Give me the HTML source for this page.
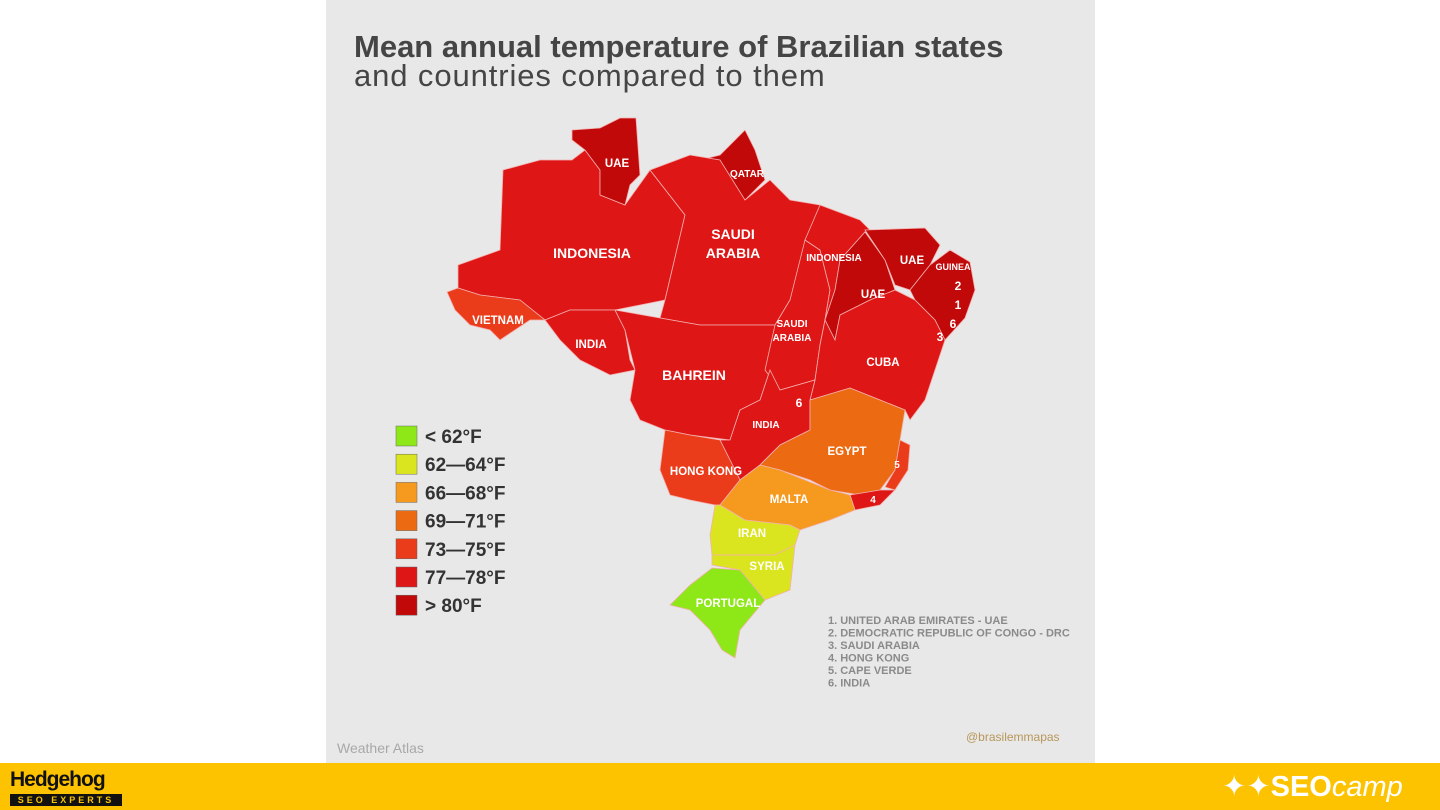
<!DOCTYPE html>
<html><head><meta charset="utf-8"><style>
html,body{margin:0;padding:0;width:1440px;height:810px;overflow:hidden;background:#fff;font-family:"Liberation Sans",sans-serif}
#panel{position:absolute;left:326px;top:0;width:769px;height:763px;background:#e8e8e8}
#bar{position:absolute;left:0;top:763px;width:1440px;height:47px;background:#fdc300}
</style></head><body>
<div id="panel"></div>
<svg id="map" width="1440" height="763" style="position:absolute;left:0;top:0">
<text x="354" y="57" font-size="31" font-weight="bold" fill="#454545">Mean annual temperature of Brazilian states</text>
<text x="354" y="86" font-size="31" letter-spacing="0.9" fill="#454545">and countries compared to them</text>
<g id="states"></g><g id="labels"></g><g id="legend"></g><g id="notes"></g>
<text x="337" y="753" font-size="14" fill="#a8a8a8">Weather Atlas</text>
<text x="966" y="741" font-size="12" fill="#b8975a">@brasilemmapas</text>
</svg>
<div id="bar">
<div style="position:absolute;left:10px;top:5px;font-size:21px;font-weight:bold;color:#111;letter-spacing:-1px">Hedgehog</div>
<div style="position:absolute;left:10px;top:31px;width:112px;height:12px;background:#111;color:#fdc300;font-size:9px;font-weight:bold;letter-spacing:3px;text-align:center;line-height:12px">SEO EXPERTS</div>
<div style="position:absolute;left:1222px;top:6px;font-size:29px;color:#fff">✦✦<b>SEO</b><i>camp</i></div>
</div>
<script>
const legendLabels=["< 62°F","62—64°F","66—68°F","69—71°F","73—75°F","77—78°F","> 80°F"];
const legendColors=["#8ee818","#dbe51f","#f59a1f","#ec6b12","#ea3c1a","#df1616","#c20909"];
const stateNames=["amazonas","roraima","amapa","para","acre","rondonia","mato-grosso","tocantins","maranhao","piaui","ceara","ne-small","bahia","goias","mato-grosso-do-sul","minas-gerais","espirito-santo","rio-de-janeiro","sao-paulo","parana","santa-catarina","rio-grande-do-sul"];
const stateClass=[5,6,6,5,4,5,5,5,5,6,6,6,5,5,4,3,4,5,2,1,1,0];
const stateLabels=["INDONESIA","UAE","QATAR","SAUDI|ARABIA","VIETNAM","INDIA","BAHREIN","SAUDI|ARABIA","INDONESIA","UAE","UAE","","CUBA","INDIA","HONG KONG","EGYPT","5","4","MALTA","IRAN","SYRIA","PORTUGAL"];
const notes=["1. UNITED ARAB EMIRATES - UAE","2. DEMOCRATIC REPUBLIC OF CONGO - DRC","3. SAUDI ARABIA","4. HONG KONG","5. CAPE VERDE","6. INDIA"];
// geometry (not data)
const shapes={
"amazonas":"458,265 500,250 503,170 540,160 572,160 585,150 600,170 600,195 625,205 650,170 685,215 665,300 615,310 570,310 545,320 520,300 480,295 458,288",
"roraima":"572,130 600,128 620,118 636,118 640,175 630,185 625,205 600,195 600,170 585,150 572,140",
"amapa":"700,160 720,155 745,130 755,150 765,180 745,200 725,185",
"para":"650,170 690,155 720,160 745,200 770,180 790,200 820,205 830,215 805,240 800,275 790,300 775,325 700,325 660,318 665,300 685,215",
"acre":"447,292 458,288 480,295 520,300 545,320 530,320 500,340 490,330 470,325 455,310",
"rondonia":"545,320 570,310 615,310 625,330 630,360 635,370 610,375 580,360 560,340",
"mato-grosso":"615,310 660,318 700,325 775,325 770,370 760,400 740,410 730,440 690,435 665,430 640,420 630,400 635,370 625,330",
"tocantins":"790,300 805,240 820,250 830,290 825,320 820,345 815,380 780,390 765,370 775,325",
"maranhao":"820,205 860,220 870,230 865,232 840,260 835,290 825,320 830,290 820,250 805,240",
"piaui":"840,260 865,232 885,260 895,290 870,300 840,315 835,340 825,320 835,290",
"ceara":"865,230 925,228 940,245 930,265 910,290 895,285 885,260",
"ne-small":"930,265 950,250 970,262 975,290 965,318 945,340 935,320 915,300 910,290",
"bahia":"825,320 835,340 840,315 870,300 895,290 915,300 935,320 945,340 935,370 925,400 910,420 905,410 880,400 850,388 810,400 815,380 820,345",
"goias":"760,400 770,370 780,390 815,380 810,400 810,430 780,445 760,465 740,480 730,460 720,440 730,440 740,410",
"mato-grosso-do-sul":"665,430 690,435 720,440 730,460 740,480 720,505 715,505 690,500 670,495 660,470",
"minas-gerais":"810,400 850,388 880,400 905,410 900,440 895,470 880,490 860,495 830,490 810,480 780,470 760,465 780,445 810,430",
"espirito-santo":"900,440 910,445 908,470 895,490 885,487 895,470",
"rio-de-janeiro":"850,495 880,490 895,490 880,505 855,510",
"sao-paulo":"760,465 780,470 830,490 850,495 855,510 830,520 800,530 790,525 745,520 720,505 740,480",
"parana":"715,505 720,505 745,520 790,525 800,530 795,545 775,555 745,555 712,555 710,535",
"santa-catarina":"712,555 775,555 795,545 790,590 765,600 740,570 712,565",
"rio-grande-do-sul":"670,605 690,585 712,568 740,570 765,600 740,630 735,658 722,650 710,630 690,610"};
const labelPos={"amazonas":[592,258],"roraima":[617,167],"amapa":[747,177],"para":[733,248],"acre":[498,324],"rondonia":[591,348],"mato-grosso":[694,380],"tocantins":[792,334],"maranhao":[834,261],"piaui":[873,298],"ceara":[912,264],"ne-small":[0,0],"bahia":[883,366],"goias":[766,428],"mato-grosso-do-sul":[706,475],"minas-gerais":[847,455],"espirito-santo":[897,468],"rio-de-janeiro":[873,503],"sao-paulo":[789,503],"parana":[752,537],"santa-catarina":[767,570],"rio-grande-do-sul":[728,607]};
const NS="http://www.w3.org/2000/svg";
const gS=document.getElementById('states'),gL=document.getElementById('labels');
stateNames.forEach((n,i)=>{
 const p=document.createElementNS(NS,'polygon');
 p.setAttribute('points',shapes[n]);
 p.setAttribute('fill',legendColors[stateClass[i]]);
 p.setAttribute('stroke','#f4b0b0');p.setAttribute('stroke-width','0.8');
 
 
 gS.appendChild(p);
 const lab=stateLabels[i];if(!lab)return;
 const [x,y]=labelPos[n];const parts=lab.split('|');
 parts.forEach((t,k)=>{
  const tx=document.createElementNS(NS,'text');
  tx.setAttribute('x',x);tx.setAttribute('y',y+k*(n==="para"?19:14)-(parts.length-1)*(n==="para"?9:7));
  tx.setAttribute('text-anchor','middle');tx.setAttribute('fill','#fff');tx.setAttribute('font-weight','bold');
  tx.setAttribute('font-size',(["amazonas","para","mato-grosso"].includes(n)?14:(["amapa","maranhao","tocantins","goias","espirito-santo","rio-de-janeiro"].includes(n)?10:11.5)));
  tx.textContent=t;
  
  
  gL.appendChild(tx);
 });
});
[["GUINEA",953,270],["2",958,290],["1",958,309],["6",953,328],["3",940,341],["6",799,407]].forEach(([t,x,y])=>{
 const tx=document.createElementNS(NS,'text');
 tx.setAttribute('x',x);tx.setAttribute('y',y);tx.setAttribute('text-anchor','middle');
 tx.setAttribute('fill','#fff');tx.setAttribute('font-weight','bold');tx.setAttribute('font-size',t.length>1?9:12);
 tx.textContent=t;
 
 
 gL.appendChild(tx);
});
const gG=document.getElementById('legend');
legendLabels.forEach((l,i)=>{
 const y=426+i*28.2;
 const r=document.createElementNS(NS,'rect');
 r.setAttribute('x',396);r.setAttribute('y',y);r.setAttribute('width',21);r.setAttribute('height',20);
 r.setAttribute('fill',legendColors[i]);r.setAttribute('stroke','#666');r.setAttribute('stroke-width','0.5');
 
 
 gG.appendChild(r);
 const t=document.createElementNS(NS,'text');
 t.setAttribute('x',425);t.setAttribute('y',y+17);t.setAttribute('font-size',19);t.setAttribute('font-weight','bold');t.setAttribute('fill','#333');
 t.textContent=l;
 
 
 gG.appendChild(t);
});
const gN=document.getElementById('notes');
notes.forEach((s,i)=>{
 const t=document.createElementNS(NS,'text');
 t.setAttribute('x',828);t.setAttribute('y',624+i*12.5);t.setAttribute('font-size',11);t.setAttribute('font-weight','bold');t.setAttribute('fill','#8a8a8a');
 t.textContent=s;
 
 
 gN.appendChild(t);
});
</script>
</body></html>
